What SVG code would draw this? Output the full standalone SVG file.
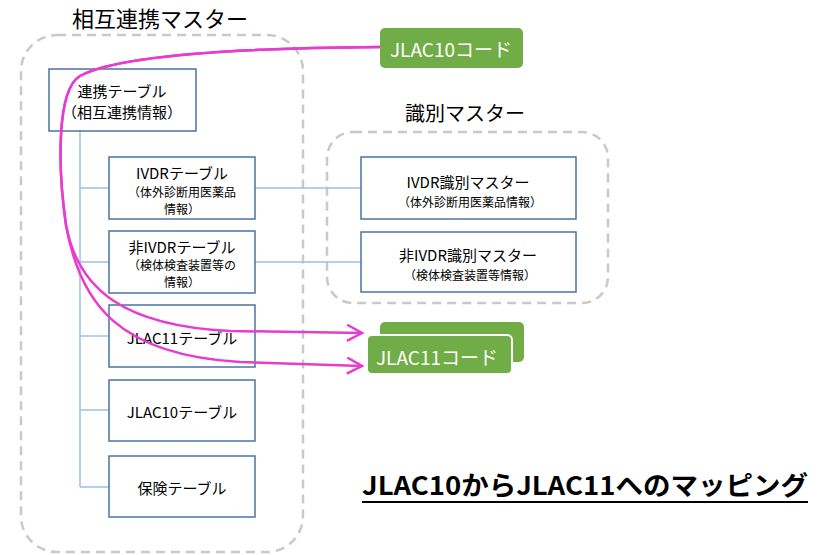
<svg xmlns="http://www.w3.org/2000/svg" width="823" height="555" viewBox="0 0 823 555">
<defs>
<style>
.t{font-family:"Noto Sans CJK JP","Noto Sans",sans-serif;fill:#000;text-anchor:middle;dominant-baseline:central}
.box{fill:#fff;stroke:#4a74a0;stroke-width:1.5}
.grp{fill:none;stroke:#c9c9c9;stroke-width:2.5;stroke-dasharray:9 6}
.conn{fill:none;stroke:#9cc2e5;stroke-width:1.5}
.map{fill:none;stroke:#e63cd0;stroke-width:2.5}
.code{fill:#70ad47}
.ct{font-family:"Noto Sans CJK JP","Noto Sans",sans-serif;fill:#fff;text-anchor:middle;dominant-baseline:central;font-size:19px}
</style>
<marker id="arr" markerWidth="20" markerHeight="20" refX="16" refY="9" orient="auto" markerUnits="userSpaceOnUse">
<polyline points="1,1 16,9 1,17" fill="none" stroke="#e63cd0" stroke-width="2.5"/>
</marker>
</defs>

<g id="group-sogo">
<rect class="grp" x="21" y="35" width="282" height="517" rx="36"/>
<text class="t" x="160" y="17" font-size="22">相互連携マスター</text>
</g>
<g id="group-shikibetsu">
<rect class="grp" x="327" y="132" width="281" height="171" rx="26"/>
<text class="t" x="465" y="112" font-size="20">識別マスター</text>
</g>

<g id="connectors">
<path class="conn" d="M80,131 V487 M80,188 H109 M80,262 H109 M80,336 H109 M80,410 H109 M80,487 H109 M255,188 H361 M255,262 H361"/>
</g>

<g id="renkei">
<rect class="box" x="49" y="69" width="147" height="62"/>
<text class="t" x="122" y="90" font-size="15">連携テーブル</text>
<text class="t" x="122" y="111" font-size="15">（相互連携情報）</text>
</g>
<g id="ivdr">
<rect class="box" x="109" y="157" width="146" height="62"/>
<text class="t" x="182" y="172" font-size="15">IVDRテーブル</text>
<text class="t" x="182" y="191" font-size="12">（体外診断用医薬品</text>
<text class="t" x="182" y="208" font-size="12">情報）</text>
</g>
<g id="non-ivdr">
<rect class="box" x="109" y="231" width="146" height="62"/>
<text class="t" x="182" y="246" font-size="15">非IVDRテーブル</text>
<text class="t" x="182" y="264" font-size="12">（検体検査装置等の</text>
<text class="t" x="182" y="281" font-size="12">情報）</text>
</g>
<g id="jlac11-table">
<rect class="box" x="109" y="305" width="146" height="62"/>
<text class="t" x="182" y="337" font-size="15">JLAC11テーブル</text>
</g>
<g id="jlac10-table">
<rect class="box" x="109" y="380" width="146" height="61"/>
<text class="t" x="182" y="411" font-size="15">JLAC10テーブル</text>
</g>
<g id="hoken">
<rect class="box" x="109" y="456" width="146" height="61"/>
<text class="t" x="182" y="487" font-size="15">保険テーブル</text>
</g>
<g id="ivdr-master">
<rect class="box" x="361" y="157" width="215" height="62"/>
<text class="t" x="468" y="181" font-size="15">IVDR識別マスター</text>
<text class="t" x="470" y="201" font-size="12">（体外診断用医薬品情報）</text>
</g>
<g id="non-ivdr-master">
<rect class="box" x="361" y="232" width="215" height="60"/>
<text class="t" x="468" y="254" font-size="15">非IVDR識別マスター</text>
<text class="t" x="470" y="274" font-size="12">（検体検査装置等情報）</text>
</g>

<g id="jlac10-code">
<rect class="code" x="380" y="28" width="143" height="40" rx="5"/>
<text class="ct" x="451" y="48">JLAC10コード</text>
</g>
<g id="jlac11-code">
<rect class="code" x="380" y="322" width="144" height="40" rx="5"/>
<rect class="code" x="367" y="335" width="145" height="39" rx="5" stroke="#fff" stroke-width="2"/>
<text class="ct" x="437" y="356">JLAC11コード</text>
</g>

<g id="mapping">
<path class="map" marker-end="url(#arr)" d="M380,47 C250,48 120,54 80,76 C56,90 58,170 66,225 C78,290 125,326 230,331 L362,333"/>
<path class="map" marker-end="url(#arr)" d="M380,47 C250,48 120,54 80,76 C56,90 58,170 66,225 C80,305 120,355 240,362 L362,366"/>
</g>

<g id="title">
<text x="585" y="495" font-family="'Noto Sans CJK JP','Noto Sans',sans-serif" font-size="26" font-weight="bold" text-anchor="middle" textLength="446" lengthAdjust="spacingAndGlyphs">JLAC10からJLAC11へのマッピング</text>
<line x1="362" y1="502" x2="808" y2="502" stroke="#000" stroke-width="2"/>
</g>
</svg>
